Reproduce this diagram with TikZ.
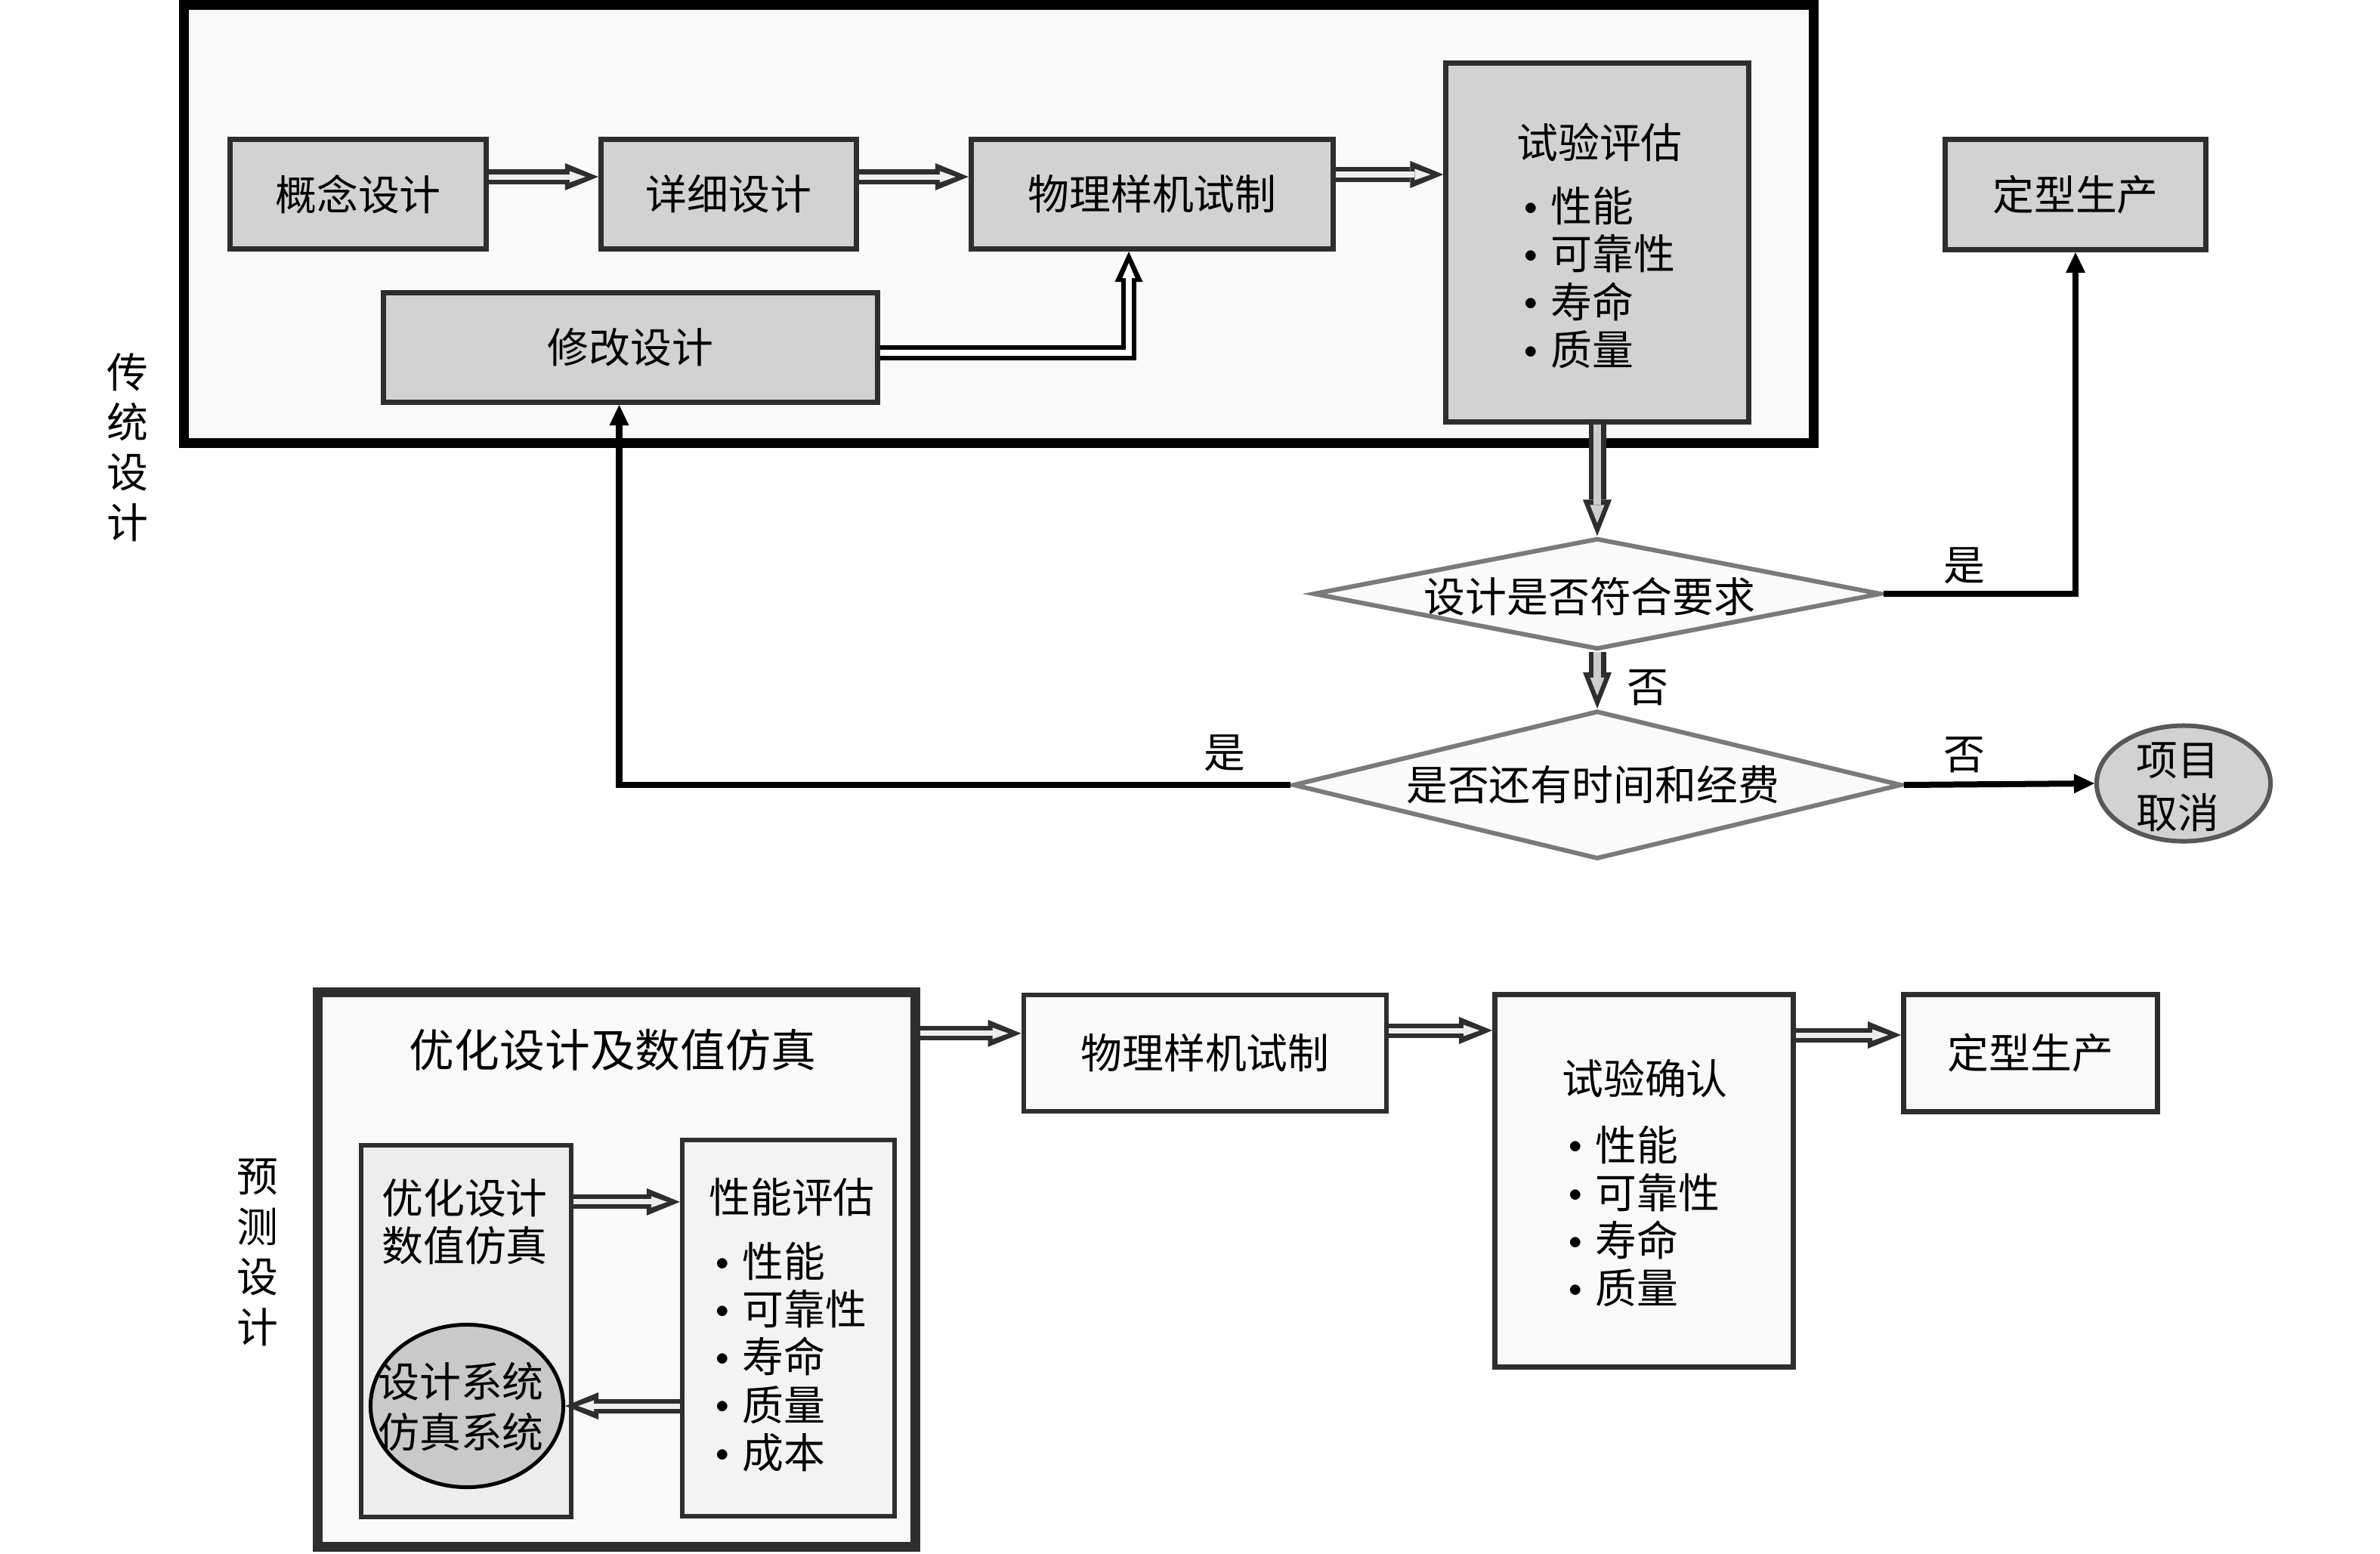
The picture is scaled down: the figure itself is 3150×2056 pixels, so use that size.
\documentclass[tikz,border=0pt]{standalone}
\usepackage{fontspec}
\setmainfont{Noto Sans CJK SC}
\usetikzlibrary{arrows.meta,shapes.geometric,calc}
\definecolor{darkline}{RGB}{46,46,46}
\definecolor{boxgray}{RGB}{210,210,210}
\definecolor{framefill}{RGB}{249,249,249}
\definecolor{diafill}{RGB}{250,250,250}
\definecolor{diaedge}{RGB}{122,122,122}
\definecolor{innerL}{RGB}{237,237,237}
\definecolor{innerR}{RGB}{243,243,243}
\definecolor{ellfill}{RGB}{201,201,201}
\definecolor{arrlight}{RGB}{238,238,238}
\definecolor{arrmid}{RGB}{205,205,205}
\newcommand\myfs{\fontsize{15.6pt}{18pt}\selectfont}
\newcommand\myvfs{\fontsize{15.6pt}{18.9pt}\selectfont}
\newcommand\mybul{\raisebox{2.6pt}{\fontsize{10pt}{10pt}\selectfont$\bullet$}\hspace{0.17cm}}
\begin{document}
\begin{tikzpicture}[x=0.01cm,y=-0.01cm,
  frame/.style={draw=black,line width=0.13cm,fill=framefill,inner sep=0},
  gbox/.style={draw=darkline,line width=0.07cm,fill=boxgray,inner sep=0,font=\myfs},
  wbox/.style={draw=darkline,line width=0.065cm,fill=framefill,inner sep=0,font=\myfs},
  dia/.style={diamond,draw=diaedge,line width=0.06cm,fill=diafill,inner sep=0},
  txt/.style={inner sep=0,font=\myfs,align=center},
  lst/.style={inner sep=0,font=\myfs,align=left,anchor=west},
  blk/.style={line width=0.19cm,draw=darkline,
    -{Triangle[length=0.44cm,width=0.36cm,line width=0pt]},
    postaction={draw=arrlight,line width=0.07cm,shorten >=0.17cm,
    -{Triangle[length=0.21cm,width=0.15cm,line width=0pt]}}},
  blkv/.style={line width=0.23cm,draw=darkline,
    -{Triangle[length=0.48cm,width=0.38cm,line width=0pt]},
    postaction={draw=arrmid,line width=0.10cm,shorten >=0.17cm,
    -{Triangle[length=0.24cm,width=0.19cm,line width=0pt]}}},
  blkb/.style={line width=0.20cm,draw=black,
    -{Triangle[length=0.40cm,width=0.37cm,line width=0pt]},
    postaction={draw=white,line width=0.08cm,shorten >=0.15cm,
    -{Triangle[length=0.20cm,width=0.17cm,line width=0pt]}}},
  thinarr/.style={line width=0.08cm,draw=black,
    -{Triangle[length=0.27cm,width=0.26cm,line width=0pt]}}
]
\useasboundingbox[fill=white] (0,0) rectangle (3150,2056);

% ---------- traditional design ----------
\node[frame,minimum width=21.55cm,minimum height=5.80cm] (topframe) at (1322,296.5) {};
\node[gbox,minimum width=3.39cm,minimum height=1.45cm] (n1) at (474,257) {概念设计};
\node[gbox,minimum width=3.38cm,minimum height=1.45cm] (n2) at (964.5,257) {详细设计};
\node[gbox,minimum width=4.79cm,minimum height=1.45cm] (n3) at (1525,257) {物理样机试制};
\node[gbox,minimum width=6.54cm,minimum height=1.45cm] (n4) at (834.5,460) {修改设计};
\node[gbox,minimum width=4.00cm,minimum height=4.75cm] (n5) at (2114,321) {};
\node[txt] (n5t) at (2117,188) {试验评估};
\node[lst] (n5l) at (2017,367.5) {\mybul 性能\\\mybul 可靠性\\\mybul 寿命\\\mybul 质量};
\node[gbox,minimum width=3.44cm,minimum height=1.46cm] (n6) at (2747,257.5) {定型生产};

\node[dia,minimum width=7.51cm,minimum height=1.47cm] (d1) at (2114,786) {};
\node[txt] (d1t) at (2104,790) {设计是否符合要求};
\node[dia,minimum width=8.05cm,minimum height=1.96cm] (d2) at (2114,1039) {};
\node[txt] (d2t) at (2108,1039) {是否还有时间和经费};
\node[ellipse,draw=darkline!80,line width=0.06cm,fill=boxgray,minimum width=2.30cm,minimum height=1.53cm,inner sep=0] (ell) at (2890,1037) {};
\node[txt,font=\fontsize{15.6pt}{20pt}\selectfont] (ellt) at (2882,1042) {项目\\取消};

\node[txt,font=\myvfs] (lab1) at (169,592) {传\\统\\设\\计};

% block arrows (top)
\draw[blk] ([yshift=0.23cm]n1.east) -- ([yshift=0.23cm]n2.west);
\draw[blk] ([yshift=0.23cm]n2.east) -- ([yshift=0.23cm]n3.west);
\coordinate (a3) at ([yshift=0.26cm]n3.east);
\draw[blk] (a3) -- (a3 -| n5.west);
\draw[blkb] ([yshift=-0.07cm]n4.east) -| ([xshift=-0.31cm]n3.south);
\draw[blkv] (n5.south) -- (d1.north);
\draw[blkv] (d1.south) -- (d2.north);

% thin connectors
\draw[thinarr] (d1.east) -| (n6.south);
\draw[thinarr] (d2.east) -- (ell.west);
\draw[thinarr] (d2.west) -| ([xshift=-0.15cm]n4.south);
\node[txt] (y1) at (2600,749) {是};
\node[txt] (no1) at (2181,910) {否};
\node[txt] (no2) at (2600,999) {否};
\node[txt] (y2) at (1621,997) {是};

% ---------- predictive design ----------
\node[frame,draw=darkline,minimum width=7.91cm,minimum height=7.34cm] (fb) at (816,1680.5) {};
\node[txt,font=\fontsize{17pt}{20pt}\selectfont] (fbt) at (811,1390) {优化设计及数值仿真};
\node[draw=darkline,line width=0.06cm,fill=innerL,inner sep=0,minimum width=2.78cm,minimum height=4.92cm] (L) at (617,1762) {};
\node[txt] (Lt) at (615,1617) {优化设计\\数值仿真};
\node[draw=darkline,line width=0.06cm,fill=innerR,inner sep=0,minimum width=2.81cm,minimum height=4.98cm] (R) at (1043.5,1758) {};
\node[txt] (Rt) at (1048,1585) {性能评估};
\node[lst] (Rl) at (947,1796) {\mybul 性能\\\mybul 可靠性\\\mybul 寿命\\\mybul 质量\\\mybul 成本};
\node[ellipse,draw=black,line width=0.05cm,fill=ellfill,inner sep=0,minimum width=2.55cm,minimum height=2.15cm] (E) at (618,1861) {};
\node[txt,font=\fontsize{15.6pt}{19.2pt}\selectfont] (Et) at (610,1862) {设计系统\\仿真系统};

\node[wbox,minimum width=4.80cm,minimum height=1.54cm] (P) at (1595,1394) {物理样机试制};
\node[wbox,minimum width=3.95cm,minimum height=4.93cm] (V) at (2176,1563) {};
\node[txt] (Vt) at (2177,1427) {试验确认};
\node[lst] (Vl) at (2076,1610) {\mybul 性能\\\mybul 可靠性\\\mybul 寿命\\\mybul 质量};
\node[wbox,minimum width=3.36cm,minimum height=1.55cm] (G) at (2687.5,1394) {定型生产};

\node[txt,font=\myvfs] (lab2) at (341,1658) {预\\测\\设\\计};

\coordinate (b1) at ([yshift=3.125cm]fb.east);
\draw[blk] (b1) -- (b1 -| P.west);
\coordinate (b2) at ([yshift=0.30cm]P.east);
\draw[blk] (b2) -- (b2 -| V.west);
\coordinate (b3) at ([yshift=0.24cm]G.west);
\draw[blk] (b3 -| V.east) -- (b3);
\coordinate (b4) at ([yshift=1.71cm]L.east);
\draw[blk] (b4) -- (b4 -| R.west);
\draw[blk] (R.west |- E.east) -- (E.east);
\end{tikzpicture}
\end{document}
